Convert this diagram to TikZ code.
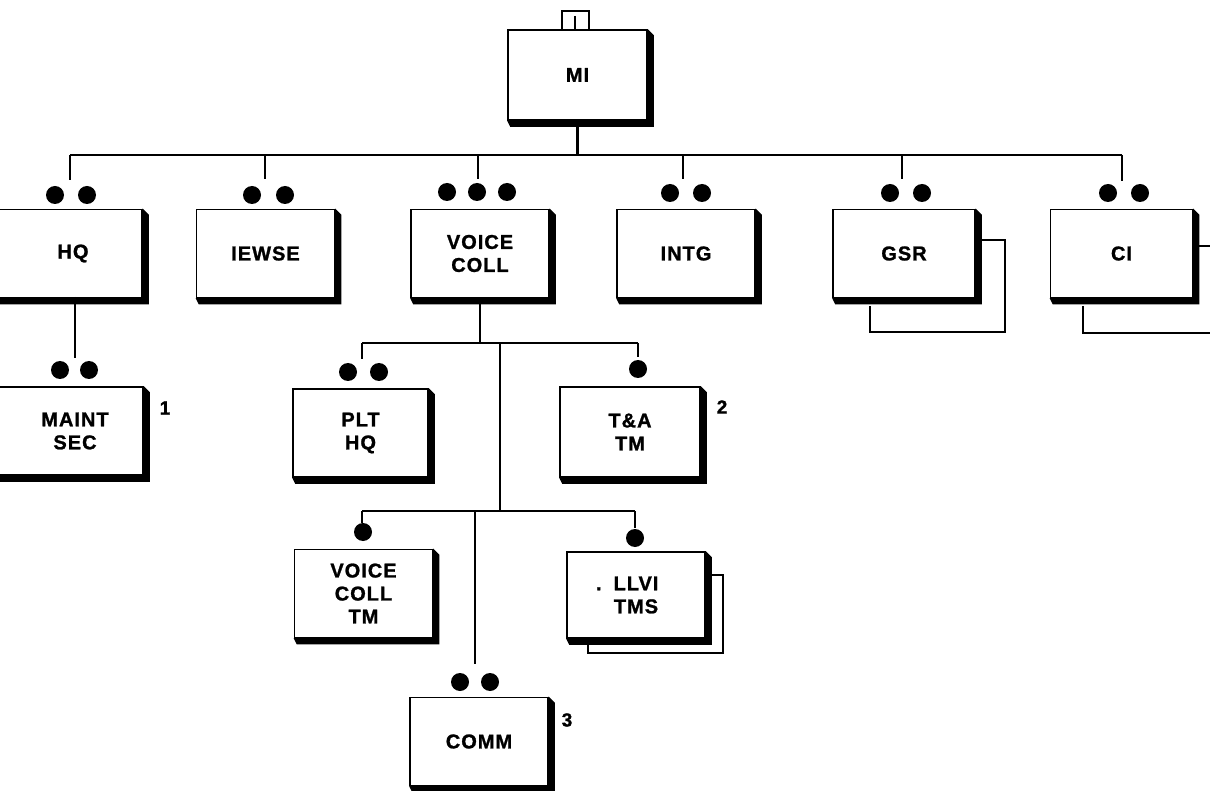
\documentclass[tikz,border=0pt]{standalone}
\usepackage{fontspec}
\newfontfamily\boxfont[LetterSpace=5, BoldFeatures={FakeBold=1.2}]{Liberation Sans}
\usetikzlibrary{backgrounds}
\begin{document}
\begin{tikzpicture}[x=1pt,y=-1pt,
  unit/.style={draw, line width=1.6pt, fill=white, minimum width=138pt, minimum height=88pt,
    inner sep=0pt, align=center, font=\boxfont\bfseries\fontsize{20}{23}\selectfont},
  txt/.style={inner sep=0pt, align=center, font=\boxfont\bfseries\fontsize{20}{23}\selectfont},
  numlbl/.style={inner sep=0pt, font=\boxfont\bfseries\fontsize{19}{20}\selectfont},
  dot/.style={circle, fill=black, minimum size=18pt, inner sep=0pt},
  conn/.style={line width=2.6pt},
  back/.style={line width=1.6pt}]
\useasboundingbox (0,0) rectangle (1210,791);

% ---------- boxes ----------
\node[unit, minimum width=139pt, minimum height=90pt] (mi) at (577.5,75) {MI};
\node[unit, minimum width=150pt] (hq) at (67,253.5) {};
\node[txt] (hqt) at (73,253.5) {HQ};
\node[unit] (iewse) at (265.5,253.5) {IEWSE};
\node[unit] (vc) at (480,253.5) {VOICE\\COLL};
\node[unit] (intg) at (686,253.5) {INTG};
\node[unit, minimum width=142pt] (gsr) at (904,253.5) {GSR};
\node[unit, minimum width=142pt] (ci) at (1121.5,253.5) {CI};
\node[unit, minimum width=150pt] (maint) at (68,431) {};
\node[txt] (maintt) at (75,431) {MAINT\\SEC};
\node[unit, minimum width=135pt] (plt) at (360.5,433) {PLT\\HQ};
\node[unit, minimum width=140pt, minimum height=90pt] (ta) at (630,432) {T\&A\\TM};
\node[unit] (vctm) at (363.5,593.5) {VOICE\\COLL\\TM};
\node[unit, minimum height=86pt] (llvi) at (636,595) {\llap{.\hspace{12pt}}LLVI\\TMS};
\node[unit] (comm) at (479,741.5) {COMM};

% ---------- shadows ----------
\begin{scope}[on background layer]
\foreach \n in {mi,hq,iewse,vc,intg,gsr,ci,maint,plt,ta,vctm,llvi,comm}{
  \fill (\n.south west) -- ([xshift=3pt,yshift=-6pt]\n.south west)
     -- ([xshift=6pt,yshift=-6pt]\n.south east) -- ([xshift=6pt,yshift=-6pt]\n.north east)
     -- (\n.north east) -- cycle;
}
\end{scope}

% ---------- numbers ----------
\node[numlbl] (n1) at (165,408) {1};
\node[numlbl] (n2) at (722,407) {2};
\node[numlbl] (n3) at (567,720) {3};

% ---------- dots ----------
\node[dot] (hqa) at (55,195) {};   \node[dot] (hqb) at (87,195) {};
\node[dot] (iea) at (252,195) {};  \node[dot] (ieb) at (285,195) {};
\node[dot] (vca) at (447,192) {};  \node[dot] (vcb) at (477,192) {}; \node[dot] (vcc) at (507,192) {};
\node[dot] (ina) at (670,193) {};  \node[dot] (inb) at (702,193) {};
\node[dot] (gsa) at (890,193) {};  \node[dot] (gsb) at (922,193) {};
\node[dot] (cia) at (1108,193) {}; \node[dot] (cib) at (1140,193) {};
\node[dot] (mta) at (60,370) {};   \node[dot] (mtb) at (89,370) {};
\node[dot] (pla) at (348,372) {};  \node[dot] (plb) at (379,372) {};
\node[dot] (taa) at (638,369) {};
\node[dot] (vta) at (363,532) {};
\node[dot] (lla) at (635,538) {};
\node[dot] (cma) at (460,682) {};  \node[dot] (cmb) at (490,682) {};

% ---------- unit symbol on MI ----------
\draw[line width=2pt] (562,30) -- (562,11) -- (589,11) -- (589,30);
\draw[line width=2pt] (575,16) -- (575,30);

% ---------- top bus ----------
\coordinate (busM) at (577.5,155);
\coordinate (bHQ) at (70,155);   \coordinate (tHQ) at (70,180);
\coordinate (bIE) at (265,155);  \coordinate (tIE) at (265,179);
\coordinate (bVC) at (478,155);  \coordinate (tVC) at (478,179);
\coordinate (bIN) at (683,155);  \coordinate (tIN) at (683,179);
\coordinate (bGS) at (902,155);  \coordinate (tGS) at (902,179);
\coordinate (bCI) at (1122,155); \coordinate (tCI) at (1122,181);
\draw[conn] (mi.south) -- (busM);
\draw[conn] (bHQ) -- (bCI);
\draw[conn] (bHQ) -- (tHQ);
\draw[conn] (bIE) -- (tIE);
\draw[conn] (bVC) -- (tVC);
\draw[conn] (bIN) -- (tIN);
\draw[conn] (bGS) -- (tGS);
\draw[conn] (bCI) -- (tCI);

% ---------- HQ to MAINT SEC ----------
\coordinate (hqs) at (75,297);
\coordinate (mts) at (75,358);
\draw[conn] (hqs) -- (mts);

% ---------- VOICE COLL subtree ----------
\coordinate (vbus) at (480,343);
\coordinate (v1L) at (362,343); \coordinate (v1R) at (638,343);
\coordinate (v1Ld) at (362,359); \coordinate (v1Rd) at (638,357);
\coordinate (v1C) at (500,343); \coordinate (v2C) at (500,511);
\coordinate (v2L) at (362,511); \coordinate (v2R) at (635,511);
\coordinate (v2Ld) at (362,523); \coordinate (v2Rd) at (635,528);
\coordinate (v3T) at (475,511); \coordinate (v3B) at (475,664);
\draw[conn] (vc.south) -- (vbus);
\draw[conn] (v1L) -- (v1R);
\draw[conn] (v1L) -- (v1Ld);
\draw[conn] (v1R) -- (v1Rd);
\draw[conn] (v1C) -- (v2C);
\draw[conn] (v2L) -- (v2R);
\draw[conn] (v2L) -- (v2Ld);
\draw[conn] (v2R) -- (v2Rd);
\draw[conn] (v3T) -- (v3B);

% ---------- stacked back boxes ----------
\draw[back] (981,240) -- (1005,240) -- (1005,332) -- (870,332) -- (870,306);
\draw[back] (1199,246) -- (1215,246);
\draw[back] (1083,306) -- (1083,333) -- (1215,333);
\draw[back] (711,575) -- (723,575) -- (723,653) -- (588,653) -- (588,644);
\end{tikzpicture}
\end{document}
